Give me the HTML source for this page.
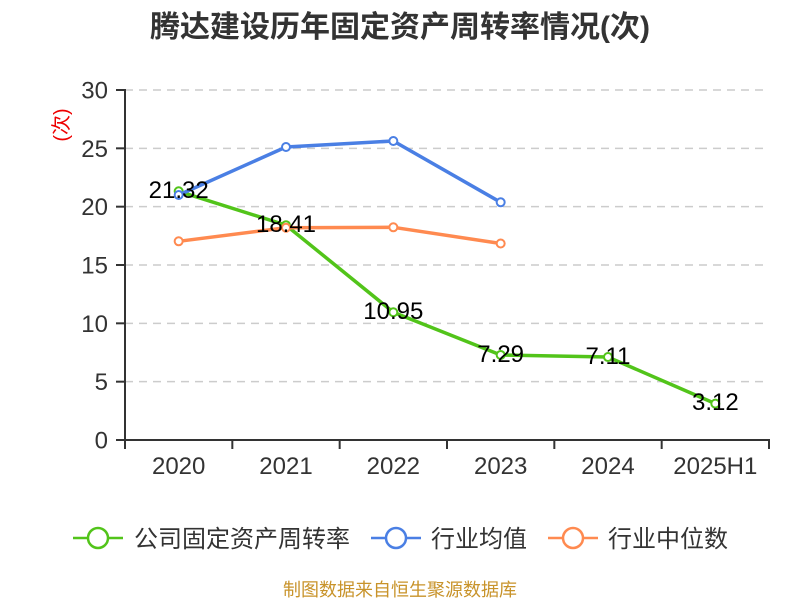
<!DOCTYPE html>
<html><head><meta charset="utf-8"><style>
html,body{margin:0;padding:0;background:#fff;}
svg{display:block;}
text{font-family:"Liberation Sans","Noto Sans CJK SC",sans-serif;}
</style></head><body>
<svg width="800" height="600" viewBox="0 0 800 600" xmlns="http://www.w3.org/2000/svg">
<rect width="800" height="600" fill="#fff"/>
<text x="400" y="37" text-anchor="middle" font-size="30" font-weight="bold" fill="#333">腾达建设历年固定资产周转率情况(次)</text>
<text transform="translate(68,125) rotate(-90)" text-anchor="middle" font-size="20" fill="#e00">(次)</text>
<g stroke="#ccc" stroke-width="1.5" stroke-dasharray="8,6">
<line x1="125" y1="90" x2="769" y2="90"/>
<line x1="125" y1="148.33" x2="769" y2="148.33"/>
<line x1="125" y1="206.67" x2="769" y2="206.67"/>
<line x1="125" y1="265" x2="769" y2="265"/>
<line x1="125" y1="323.33" x2="769" y2="323.33"/>
<line x1="125" y1="381.67" x2="769" y2="381.67"/>
</g>
<g stroke="#333" stroke-width="2" fill="none">
<line x1="125" y1="89" x2="125" y2="441"/>
<line x1="124" y1="440" x2="770" y2="440"/>
<line x1="116" y1="90" x2="125" y2="90"/>
<line x1="116" y1="148.33" x2="125" y2="148.33"/>
<line x1="116" y1="206.67" x2="125" y2="206.67"/>
<line x1="116" y1="265" x2="125" y2="265"/>
<line x1="116" y1="323.33" x2="125" y2="323.33"/>
<line x1="116" y1="381.67" x2="125" y2="381.67"/>
<line x1="116" y1="440" x2="125" y2="440"/>
<line x1="125" y1="440" x2="125" y2="449"/>
<line x1="232.33" y1="440" x2="232.33" y2="449"/>
<line x1="339.67" y1="440" x2="339.67" y2="449"/>
<line x1="447" y1="440" x2="447" y2="449"/>
<line x1="554.33" y1="440" x2="554.33" y2="449"/>
<line x1="661.67" y1="440" x2="661.67" y2="449"/>
<line x1="769" y1="440" x2="769" y2="449"/>
</g>
<g font-size="24" fill="#333" text-anchor="end">
<text x="108" y="98.5">30</text>
<text x="108" y="156.8">25</text>
<text x="108" y="215.2">20</text>
<text x="108" y="273.5">15</text>
<text x="108" y="331.8">10</text>
<text x="108" y="390.2">5</text>
<text x="108" y="448.5">0</text>
</g>
<g font-size="24" fill="#333" text-anchor="middle">
<text x="178.67" y="474">2020</text>
<text x="286" y="474">2021</text>
<text x="393.33" y="474">2022</text>
<text x="500.67" y="474">2023</text>
<text x="608" y="474">2024</text>
<text x="715.33" y="474">2025H1</text>
</g>
<polyline fill="none" stroke="#52c41a" stroke-width="3.5" stroke-linejoin="round" points="178.67,191.27 286,225.22 393.33,312.25 500.67,354.95 608,357.05 715.33,403.6"/>
<g fill="#fff" stroke="#52c41a" stroke-width="2">
<circle cx="178.67" cy="191.27" r="4"/><circle cx="286" cy="225.22" r="4"/><circle cx="393.33" cy="312.25" r="4"/>
<circle cx="500.67" cy="354.95" r="4"/><circle cx="608" cy="357.05" r="4"/><circle cx="715.33" cy="403.6" r="4"/>
</g>
<polyline fill="none" stroke="#4a7fe4" stroke-width="3.5" stroke-linejoin="round" points="178.67,195 286,147 393.33,141 500.67,202.3"/>
<g fill="#fff" stroke="#4a7fe4" stroke-width="2">
<circle cx="178.67" cy="195" r="4"/><circle cx="286" cy="147" r="4"/><circle cx="393.33" cy="141" r="4"/><circle cx="500.67" cy="202.3" r="4"/>
</g>
<polyline fill="none" stroke="#ff8a50" stroke-width="3.5" stroke-linejoin="round" points="178.67,241.3 286,227.7 393.33,227.3 500.67,243.5"/>
<g fill="#fff" stroke="#ff8a50" stroke-width="2">
<circle cx="178.67" cy="241.3" r="4"/><circle cx="286" cy="227.7" r="4"/><circle cx="393.33" cy="227.3" r="4"/><circle cx="500.67" cy="243.5" r="4"/>
</g>
<g font-size="24" fill="#000" text-anchor="middle">
<text x="178.67" y="198">21.32</text>
<text x="286" y="232">18.41</text>
<text x="393.33" y="319">10.95</text>
<text x="500.67" y="362">7.29</text>
<text x="608" y="364">7.11</text>
<text x="715.33" y="410">3.12</text>
</g>
<g stroke-width="2.5" fill="#fff">
<line x1="73" y1="538" x2="123" y2="538" stroke="#52c41a"/>
<circle cx="98" cy="538" r="10" stroke="#52c41a"/>
<line x1="371" y1="538" x2="421" y2="538" stroke="#4a7fe4"/>
<circle cx="396" cy="538" r="10" stroke="#4a7fe4"/>
<line x1="548" y1="538" x2="598" y2="538" stroke="#ff8a50"/>
<circle cx="573" cy="538" r="10" stroke="#ff8a50"/>
</g>
<g font-size="24" fill="#333">
<text x="134" y="547">公司固定资产周转率</text>
<text x="431" y="547">行业均值</text>
<text x="608" y="547">行业中位数</text>
</g>
<text x="400" y="596" text-anchor="middle" font-size="18" fill="#c8932a">制图数据来自恒生聚源数据库</text>
</svg>
</body></html>
